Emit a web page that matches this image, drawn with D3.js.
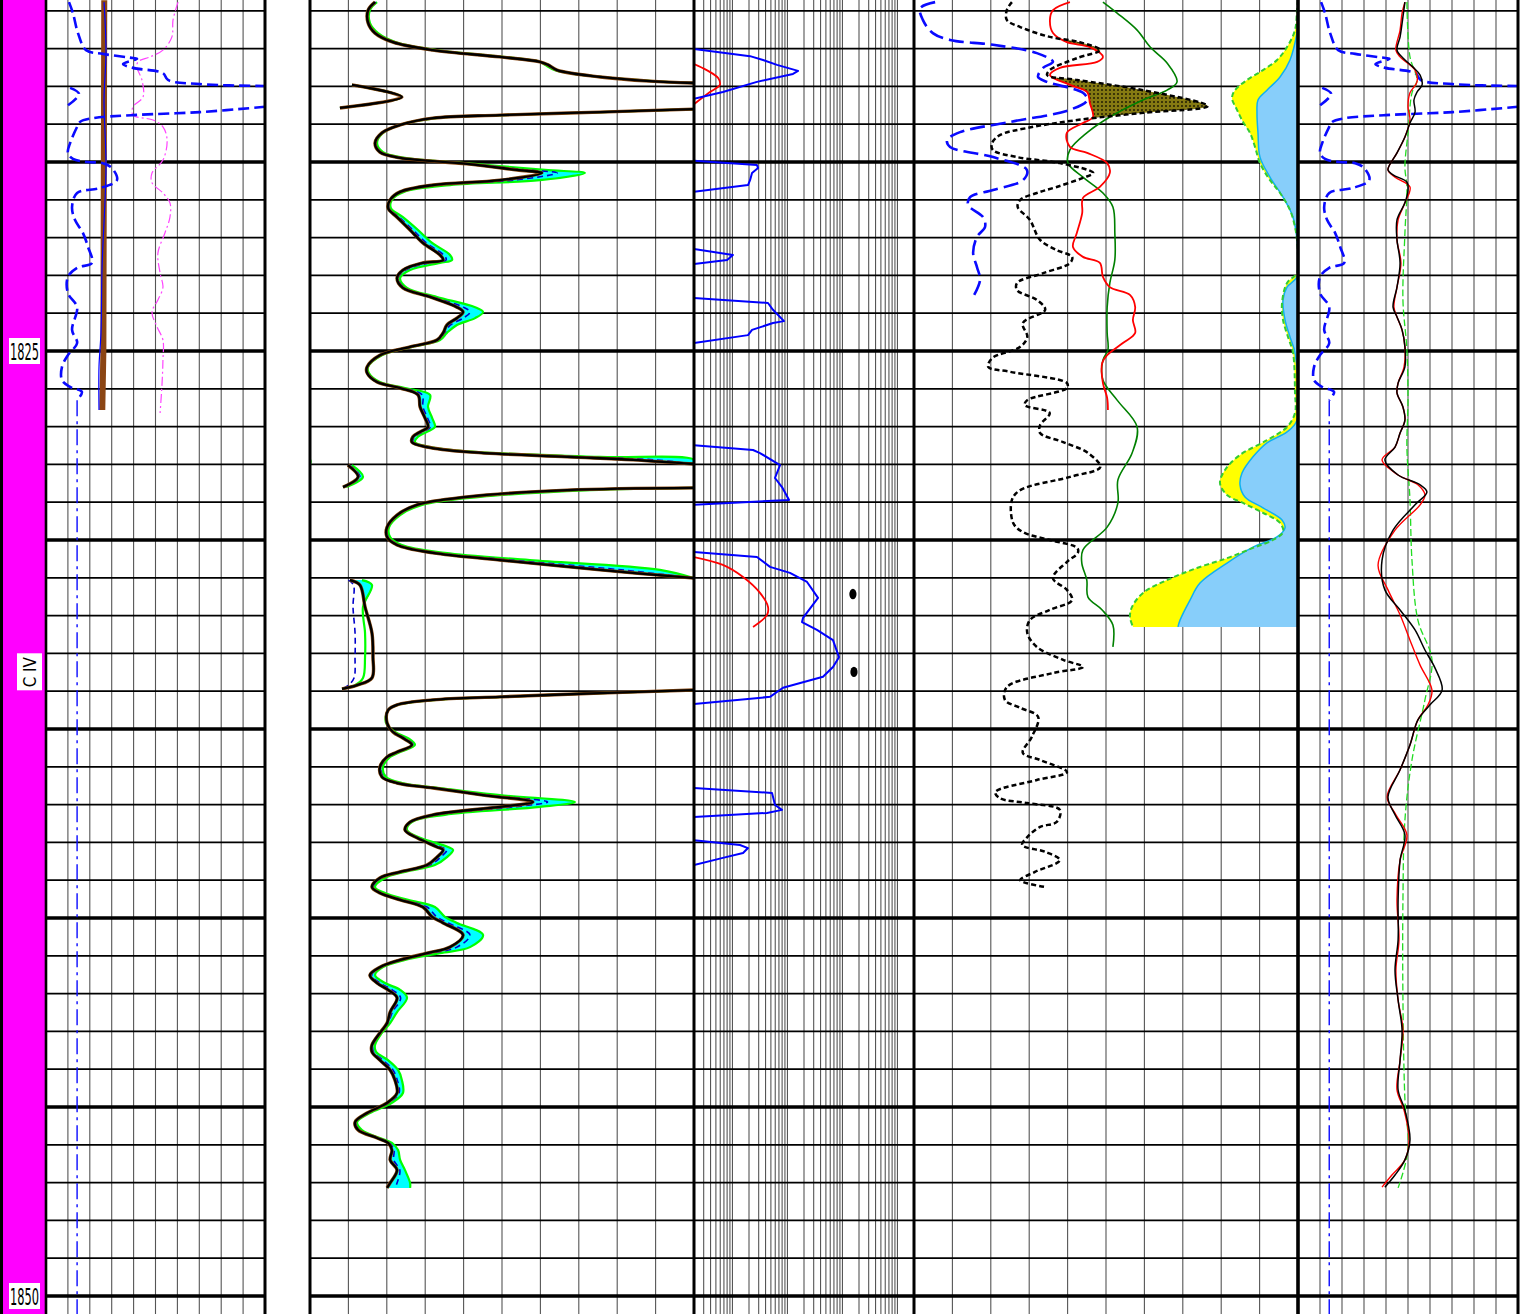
<!DOCTYPE html>
<html>
<head>
<meta charset="utf-8">
<script src="https://cdn.jsdelivr.net/npm/d3@7"></script>
<style>
  html, body { margin: 0; padding: 0; background: #fff; }
  svg { display: block; }
</style>
</head>
<body>
<svg id="chart" width="1530" height="1314"></svg>
<script>
// ---------------------------------------------------------------------------
// Log data, [depth (m), value] pairs unless noted. null pairs break a curve.
// ---------------------------------------------------------------------------

// Track 1 / Track 5: SP (0-100, wraps past the right edge)
const SP_CURVE = [
  [1815.77,10.5],[1816.06,12.3],[1816.59,14.6],[1817.04,18.3],[1817.14,26.0],[1817.25,39.7],
  [1817.27,41.6],[1817.41,35.2],[1817.51,39.7],[1817.65,53.4],[1817.83,55.7],[1817.94,70.3],
  [1817.99,100],[null,null],[1818.04,111.0],[1818.20,115.1],[1818.52,109.6],[null,null],[1818.54,100],
  [1818.68,70.3],[1818.76,39.7],[1818.84,21.5],[1818.94,15.5],[1819.07,14.2],[1819.50,11.0],
  [1819.76,10.0],[1819.92,12.3],[1820.00,18.7],[1820.03,26.0],[1820.16,30.1],[1820.48,32.4],
  [1820.69,24.7],[1820.82,14.2],[1821.19,11.9],[1821.53,13.2],[1821.88,16.9],[1822.25,19.2],
  [1822.67,21.0],[1822.80,14.2],[1823.04,10.0],[1823.47,10.0],[1823.84,14.2],[1824.44,11.9],
  [1824.79,14.2],[1825.11,10.0],[1825.42,7.3],[1825.77,7.3],[1825.95,11.0],[1826.08,16.4],
  [1826.30,14.2]
];
// SP shale baseline
const SP_BASELINE = [[1826.30,14.2],[1850.6,14.2]];

// Track 1: bit size and calipers (in)
const BIT_SIZE = [[1815.72,8.66],[1825.00,8.62],[1826.56,8.57]];
const CALIPER = [
  [1815.77,8.65],[1817.09,8.74],[1818.36,8.65],[1820.13,8.74],[1822.78,8.56],
  [1824.52,8.51],[1825.42,8.42],[1826.56,8.42]
];
const CALIPER_2 = [
  [1815.77,12.03],[1816.24,11.80],[1816.69,11.75],[1817.04,11.34],[1817.22,10.75],[1817.35,10.20],
  [1817.51,10.16],[1817.83,10.38],[1818.28,10.43],[1818.54,9.97],[1818.76,9.97],[1818.89,10.89],
  [1819.07,11.34],[1819.42,11.53],[1819.95,11.34],[1820.29,10.84],[1820.55,10.84],[1820.82,11.34],
  [1821.08,11.66],[1821.46,11.66],[1821.88,11.43],[1822.41,11.11],[1822.94,11.21],[1823.31,11.34],
  [1823.65,11.11],[1823.97,10.84],[1824.36,11.07],[1824.71,11.34],[1825.24,11.34],[1825.85,11.30],
  [1826.64,11.21]
];

// Track 2: gamma ray runs (API 0-150, wraps), shared depth samples
const GR_DEPTH = [
  1815.77,1815.98,1816.32,1816.59,1816.83,1817.04,1817.22,1817.35,1817.43,1817.57,1817.75,1817.86,1817.91,null,
  1817.96,1818.28,1818.57,null,1818.60,1818.68,1818.76,1818.84,1819.02,1819.23,1819.50,1819.74,1819.89,1820.05,
  1820.21,1820.29,1820.48,1820.61,1820.79,1821.00,1821.22,1821.46,1821.80,1822.14,1822.46,1822.59,1822.67,
  1822.86,1823.07,1823.33,1823.57,1823.84,1823.97,1824.13,1824.31,1824.52,1824.71,1824.89,1825.11,1825.42,
  1825.58,1825.82,1825.98,1826.16,1826.48,1826.77,1827.01,1827.14,1827.27,1827.41,1827.54,1827.67,1827.80,
  1827.88,1827.99,null,1828.02,1828.33,1828.60,null,1828.62,1828.68,1828.86,1829.07,1829.34,1829.66,1829.92,
  1830.13,1830.34,1830.53,1830.79,1831.01,null,1831.06,1831.19,1831.77,1832.46,1833.10,1833.65,1833.84,
  1833.94,null,1833.97,1834.05,1834.15,1834.23,1834.36,1834.50,1834.84,1835.08,1835.24,1835.42,1835.61,1835.74,
  1836.01,1836.27,1836.43,1836.56,1836.75,1836.93,1837.06,1837.27,1837.46,1837.67,1837.88,1838.12,1838.20,
  1838.39,1838.60,1838.78,1838.94,1839.18,1839.34,1839.52,1839.71,1839.97,1840.13,1840.45,1840.77,1840.93,
  1841.11,1841.30,1841.51,1841.72,1841.90,1842.11,1842.49,1842.78,1843.04,1843.36,1843.54,1843.76,1844.02,
  1844.29,1844.63,1844.89,1845.16,1845.40,1845.61,1845.82,1845.95,1846.14,1846.40,1846.67,1847.01,1847.14
];
const GR_MAIN = [
  25.4,22.7,22.7,25.4,32.4,48.0,74.2,89.8,93.0,96.5,113.3,132.8,150,null,
  166.4,185.9,161.7,null,150,113.3,74.2,48.0,35.2,28.1,25.4,27.3,35.2,61.3,
  80.9,90.6,74.2,48.0,35.2,31.3,30.5,34.0,39.1,44.1,50.8,52.0,44.1,
  36.3,34.0,36.3,46.9,57.4,59.8,57.4,53.5,52.0,49.6,39.1,27.3,22.3,
  22.3,26.2,35.2,42.2,43.0,44.9,46.1,43.0,40.2,39.8,45.7,61.3,100.4,
  126.2,150,null,164.8,168.8,162.9,null,150,100.4,61.3,41.8,34.0,30.1,30.1,
  34.0,48.0,74.2,113.3,150,null,165.6,169.5,171.5,174.2,174.6,174.2,168.4,
  162.5,null,150,113.3,74.2,48.0,34.0,30.5,30.1,32.4,36.3,39.8,34.0,30.1,
  27.3,28.1,34.0,48.0,67.6,87.1,74.2,48.0,39.1,37.1,41.8,49.6,52.0,
  49.6,45.7,35.2,27.3,24.2,27.3,35.2,44.1,47.7,52.0,59.8,54.7,45.7,
  35.2,27.3,23.4,26.2,30.5,34.0,31.3,30.1,27.3,24.2,24.2,27.3,31.3,
  33.2,34.0,30.1,22.3,17.6,18.8,26.2,30.5,32.0,31.3,34.0,31.3,30.1
];
const GR_ALT = [
  26.2,23.4,23.4,26.6,33.6,49.6,75.4,89.8,91.8,95.7,113.3,133.6,150,null,
  166.4,185.9,161.7,null,150,114.1,75.4,49.2,35.2,28.5,26.2,28.5,37.1,64.5,
  91.8,107.4,89.8,54.7,36.7,32.0,31.6,36.3,42.2,47.7,54.7,55.5,50.8,
  39.1,35.2,37.9,49.6,64.5,67.6,64.5,57.4,53.5,50.8,39.8,28.1,22.7,
  23.0,27.3,37.1,46.9,46.1,47.7,48.8,45.7,42.2,41.0,46.9,64.5,113.3,
  150,150,null,166.4,170.7,164.1,null,150,109.4,66.4,43.8,35.2,30.9,31.3,
  35.9,52.7,85.9,136.7,150,null,170.3,174.2,170.7,171.5,171.5,170.7,167.6,
  162.5,null,150,113.3,75.0,49.2,34.4,30.5,29.7,33.2,38.3,41.0,35.2,31.3,
  28.5,29.7,35.9,50.8,74.2,103.5,89.8,52.7,39.8,37.9,43.0,53.9,55.9,
  53.5,48.8,37.1,29.3,25.4,29.3,38.3,48.8,52.7,57.4,67.6,62.5,50.8,
  37.1,28.5,25.4,29.3,35.2,37.9,34.0,31.3,28.1,25.4,25.8,30.5,34.4,
  35.9,36.3,32.0,23.4,18.4,20.3,27.3,32.0,34.4,35.2,37.1,39.1,39.1
];
const GR_RUN3 = [
  25.7,22.9,22.9,25.8,32.8,48.6,74.6,89.8,92.6,96.2,113.3,133.1,150,null,
  166.4,185.9,161.7,null,150,113.6,74.6,48.4,35.2,28.2,25.7,27.7,35.9,62.4,
  84.7,96.5,79.7,50.3,35.7,31.5,30.9,34.8,40.2,45.4,52.2,53.2,46.4,
  37.3,34.4,36.9,47.8,59.9,62.5,59.9,54.9,52.5,50.0,39.3,27.6,22.4,
  22.5,26.6,35.9,43.8,44.1,45.9,47.0,43.9,40.9,40.2,46.1,62.4,104.9,
  134.5,150,null,165.4,169.5,163.3,null,150,103.6,63.1,42.5,34.4,30.4,30.5,
  34.7,49.6,78.3,121.5,150,null,165.0,167.0,166.8,167.6,167.6,167.2,165.0,
  162.5,null,150,113.3,74.5,48.4,34.1,30.5,29.9,32.7,37.0,40.2,34.4,30.5,
  27.7,28.7,34.7,49.0,69.9,92.8,79.7,49.6,39.3,37.4,42.2,51.1,53.4,
  51.0,46.8,35.9,28.0,24.6,28.0,36.3,45.7,49.5,53.9,62.5,57.4,47.5,
  35.9,27.7,24.1,27.3,32.1,35.4,32.2,30.5,27.6,24.6,24.8,28.4,32.4,
  34.1,34.8,30.8,22.7,17.9,19.3,26.6,31.0,32.8,32.7,35.1,34.0,33.2
];

// Track 3: resistivity (ohm.m, log 0.2-2000)
const RES_DEEP = [
  [1817.01,0.2],[1817.20,2.09],[1817.30,3.6],[1817.43,6.46],[1817.59,15.6],[1817.67,12.6],[1817.88,2.79],
  [1818.15,0.67],[1818.33,0.2],[null,null],
  [1819.97,0.2],[1820.08,2.79],[1820.16,2.92],[1820.29,2.27],[1820.48,2.09],[1820.61,1.92],[1820.79,0.2],[null,null],
  [1822.30,0.2],[1822.46,1.02],[1822.59,0.80],[1822.70,0.2],[null,null],
  [1823.60,0.2],[1823.73,4.43],[1823.91,5.46],[1824.21,8.65],[1824.26,5.46],[1824.44,2.27],[1824.58,1.92],
  [1824.79,0.2],[null,null],
  [1827.49,0.2],[1827.62,2.37],[1827.70,3.17],[1828.02,7.33],[1828.36,5.94],[1828.60,7.96],[1828.94,10.7],
  [1829.07,0.2],[null,null],
  [1830.32,0.2],[1830.45,2.79],[1830.71,4.82],[1830.87,11.1],[1831.11,22.7],[1831.53,36.0],[1832.06,19.2],
  [1832.17,18.4],[1832.38,34.4],[1832.65,67.3],[1833.10,86.5],[1833.36,67.3],[1833.62,44.3],[1833.91,8.30],
  [1834.15,4.82],[1834.34,0.2],[null,null],
  [1836.56,0.2],[1836.69,5.24],[1837.01,5.94],[1837.14,7.96],[1837.22,4.25],[1837.33,0.2],[null,null],
  [1837.94,0.2],[1838.07,1.37],[1838.15,1.92],[1838.28,1.56],[1838.41,0.67],[1838.60,0.2]
];
const RES_SHALLOW = [
  [1817.41,0.2],[1817.57,0.34],[1817.78,0.55],[1817.96,0.59],[1818.15,0.39],[1818.47,0.2],[null,null],
  [1830.45,0.2],[1830.66,0.67],[1830.98,1.56],[1831.40,3.17],[1831.77,4.43],[1831.98,4.25],[1832.30,2.37]
];
const RES_SAMPLES = [[1831.43,155],[1833.49,162]];

// Track 4: porosity / density / sonic / PEF
const NPHI = [
  [1815.77,0.297],[1815.98,0.305],[1816.24,0.305],[1816.43,0.284],[1816.69,0.238],[1816.83,0.191],
  [1817.04,0.159],[1817.25,0.195],[1817.57,0.238],[1817.70,0.242],[1817.83,0.195],[1818.10,0.092],
  [1818.52,-0.009],[1818.70,0.092],[1818.89,0.195],[1819.10,0.273],[1819.29,0.316],[1819.50,0.328],
  [1819.68,0.327],[1819.87,0.289],[1820.03,0.222],[1820.29,0.170],[1820.42,0.186],[1820.66,0.227],
  [1820.82,0.258],[1821.00,0.284],[1821.19,0.288],[1821.53,0.269],[1822.06,0.253],[1822.33,0.227],
  [1822.51,0.203],[1822.67,0.206],[1822.94,0.248],[1823.20,0.289],[1823.39,0.289],[1823.65,0.258],
  [1823.91,0.245],[1824.26,0.280],[1824.63,0.273],[1824.89,0.284],[1825.19,0.328],[1825.42,0.334],
  [1825.55,0.300],[1825.85,0.211],[1825.98,0.211],[1826.30,0.273],[1826.43,0.277],[1826.64,0.238],
  [1826.96,0.253],[1827.17,0.253],[1827.41,0.217],[1827.70,0.178],[1828.07,0.159],[1828.33,0.206],
  [1828.68,0.284],[1828.94,0.297],[1829.55,0.295],[1829.79,0.280],[1830.00,0.238],[1830.21,0.195],
  [1830.34,0.194],[1830.58,0.211],[1831.01,0.233],[1831.32,0.211],[1831.59,0.203],[1831.85,0.238],
  [1832.12,0.269],[1832.46,0.273],[1832.83,0.258],[1833.17,0.217],[1833.36,0.186],[1833.52,0.233],
  [1833.89,0.305],[1834.23,0.308],[1834.44,0.284],[1834.68,0.256],[1835.21,0.266],[1835.63,0.280],
  [1835.82,0.253],[1836.14,0.211],[1836.35,0.258],[1836.67,0.323],[1836.83,0.316],[1836.96,0.273],
  [1837.14,0.222],[1837.46,0.227],[1837.59,0.253],[1837.86,0.273],[1838.07,0.281],[1838.25,0.245],
  [1838.47,0.222],[1838.78,0.261],[1839.00,0.284],[1839.18,0.245]
];
const RHOB = [
  [1815.77,2.356],[1815.98,2.312],[1816.24,2.304],[1816.59,2.312],[1816.83,2.348],[1816.96,2.408],
  [1817.22,2.442],[1817.35,2.427],[1817.51,2.330],[1817.70,2.304],[1817.96,2.356],[1818.15,2.401],
  [1818.44,2.408],[1818.81,2.416],[1818.97,2.390],[1819.23,2.348],[1819.60,2.356],[1819.76,2.401],
  [1820.03,2.453],[1820.29,2.460],[1820.66,2.434],[1820.95,2.390],[1821.35,2.388],[1821.88,2.374],
  [1822.25,2.364],[1822.51,2.390],[1822.67,2.434],[1823.04,2.442],[1823.31,2.460],[1823.52,2.513],
  [1823.84,2.526],[1824.18,2.520],[1824.52,2.526],[1824.79,2.494],[1825.11,2.453],[1825.32,2.440],
  [1825.85,2.442],[1826.24,2.453],[1826.56,2.455]
];
const DT = [
  [1815.77,90.8],[1816.06,87.1],[1816.51,81.9],[1816.96,78.5],[1817.38,74.1],[1817.88,71.5],
  [1818.10,74.1],[1818.36,80.4],[1818.81,89.0],[1819.23,95.0],[1819.68,99.4],[1820.03,99.9],
  [1820.40,96.0],[1820.82,90.8],[1821.19,88.2],[1821.88,87.7],[1822.59,87.7],[1823.20,89.0],
  [1823.84,89.7],[1824.52,89.7],[1824.97,89.5],[1825.24,90.8],[1825.77,90.8],[1826.30,87.1],
  [1827.01,81.9],[1827.70,83.2],[1828.41,86.9],[1829.02,86.9],[1829.66,89.7],[1830.26,96.0],
  [1830.61,96.3],[1831.06,95.0],[1831.51,94.7],[1831.85,91.0],[1832.25,88.2],[1832.83,88.2]
];
const PEF = [
  [1815.77,0.55],[1815.93,0.16],[1816.24,0.23],[1816.59,0.49],[1816.77,0.94],[1816.90,2.06],
  [1817.12,3.20],[1817.35,3.62],[1817.51,3.36],[1817.75,3.23],[1817.88,3.46],[1818.17,4.40],
  [1818.36,4.51],[1818.62,4.06],[1818.94,2.50],[1819.21,1.20],[1819.42,0.86],[1819.60,0.94],
  [1819.87,2.06],[1820.21,2.94],[1820.48,2.84],[1820.74,2.06],[1820.93,1.46],[1821.14,1.41],
  [1821.46,1.80],[1821.72,1.85],[1821.98,1.64],[1822.41,1.54],[1822.78,1.64],[1823.12,1.72],
  [1823.57,1.54]
];
// Effective porosity and bulk volume water (v/v, 0.5-0, from the right edge)
const PHIE = [
  [1815.71,0],[1815.98,0.0013],[1816.51,0.0039],[1816.96,0.0143],[1817.30,0.0273],[1817.57,0.0456],
  [1817.83,0.0664],[1818.10,0.0820],[1818.31,0.0859],[1818.62,0.0794],[1818.94,0.0716],[1819.23,0.0625],
  [1819.60,0.0560],[1820.03,0.0495],[1820.48,0.0365],[1820.82,0.0234],[1821.27,0.0104],[1821.72,0.0039],
  [1822.06,0.0013],[1822.54,0],[1822.94,0.0013],[1823.20,0.0143],[1823.73,0.0208],[1824.18,0.0195],
  [1824.63,0.0130],[1825.05,0.0065],[1826.11,0.0039],[1826.64,0.0039],[1827.01,0.0143],[1827.36,0.0404],
  [1827.75,0.0755],[1828.15,0.0951],[1828.49,0.1016],[1828.81,0.0924],[1829.02,0.0716],[1829.28,0.0456],
  [1829.55,0.0234],[1829.79,0.0195],[1830.00,0.0326],[1830.21,0.0586],[1830.48,0.0924],[1830.74,0.1315],
  [1831.06,0.1706],[1831.40,0.2018],[1831.77,0.2161],[1832.04,0.2188],[1832.30,0.2148]
];
const BVW = [
  [1815.71,0],[1816.38,0],[1816.59,0.0013],[1817.30,0.0104],[1817.75,0.0234],[1818.10,0.0404],
  [1818.36,0.0521],[1818.70,0.0534],[1819.23,0.0521],[1819.87,0.0495],[1820.40,0.0365],[1820.93,0.0195],
  [1821.46,0.0065],[1822.06,0.0013],[1822.54,0],[1823.04,0.0013],[1823.31,0.0143],[1823.65,0.0195],
  [1824.18,0.0169],[1824.63,0.0104],[1825.05,0.0039],[1826.83,0.0013],[1827.14,0.0143],[1827.43,0.0404],
  [1827.80,0.0586],[1828.23,0.0729],[1828.54,0.0755],[1828.86,0.0690],[1829.15,0.0456],[1829.47,0.0208],
  [1829.68,0.0169],[1829.92,0.0273],[1830.19,0.0586],[1830.61,0.0924],[1831.14,0.1276],[1831.59,0.1406],
  [1832.12,0.1536],[1832.30,0.1563]
];

// Track 5: three micro-curves (0-100)
const T5_BLACK = [
  [1815.77,48.6],[1816.16,47.7],[1816.69,46.4],[1817.04,45.0],[1817.25,47.7],[1817.49,52.3],[1817.70,55.5],
  [1817.96,56.4],[1818.15,54.1],[1818.36,52.7],[1818.68,53.2],[1818.97,50.9],[1819.34,48.6],[1819.76,45.0],
  [1820.21,40.9],[1820.34,43.2],[1820.53,49.5],[1820.74,50.0],[1821.08,48.6],[1821.53,45.0],[1822.06,45.0],
  [1822.67,46.4],[1823.31,45.0],[1823.84,43.2],[1824.10,45.0],[1824.44,47.3],[1824.89,48.6],[1825.42,48.6],
  [1825.85,45.5],[1826.11,45.0],[1826.48,47.7],[1826.83,48.6],[1827.17,46.4],[1827.54,44.1],[1827.88,39.5],
  [1828.28,45.5],[1828.54,55.5],[1828.73,58.6],[1829.07,53.2],[1829.74,43.2],[1830.53,38.2],[1831.32,39.5],
  [1831.85,46.4],[1832.38,53.2],[1832.91,57.7],[1833.39,62.3],[1833.97,65.5],[1834.36,60.0],[1834.76,54.5],
  [1835.42,50.9],[1836.08,46.4],[1836.80,40.9],[1837.27,44.1],[1837.80,48.6],[1838.47,46.4],[1839.52,45.5],
  [1840.58,45.5],[1841.38,44.1],[1842.17,45.5],[1842.96,47.3],[1843.76,46.4],[1844.55,45.5],[1845.08,48.6],
  [1845.87,50.9],[1846.40,48.6],[1846.80,44.1],[1847.12,39.5]
];
const T5_RED = [
  [1815.77,48.6],[1816.06,47.3],[1816.51,46.4],[1817.04,44.5],[1817.22,46.4],[1817.57,53.2],[1817.88,54.1],
  [1818.17,50.9],[1818.54,50.0],[1818.89,50.9],[1819.34,48.6],[1819.76,45.0],[1820.21,40.9],[1820.40,44.1],
  [1820.66,50.9],[1821.08,48.6],[1821.53,45.5],[1822.06,45.0],[1822.67,46.8],[1823.31,45.0],[1823.84,43.6],
  [1824.10,45.0],[1824.44,47.3],[1824.89,48.6],[1825.42,48.2],[1825.85,45.5],[1826.11,45.0],[1826.48,47.7],
  [1826.83,48.6],[1827.17,46.4],[1827.54,44.1],[1827.88,38.2],[1828.28,45.5],[1828.54,54.5],[1828.81,57.7],
  [1829.07,55.5],[1829.74,44.1],[1830.66,36.4],[1831.32,40.9],[1831.98,46.4],[1832.65,50.9],[1833.31,55.5],
  [1833.97,60.9],[1834.36,59.1],[1834.76,54.5],[1835.42,50.9],[1836.08,46.4],[1836.80,40.5],[1837.27,44.5],
  [1837.80,49.5],[1838.47,46.4],[1839.52,45.0],[1840.58,45.9],[1841.38,44.5],[1842.17,45.5],[1842.96,47.7],
  [1843.76,46.4],[1844.55,45.0],[1845.08,48.2],[1845.87,50.5],[1846.40,48.6],[1846.80,42.7],[1847.12,38.2]
];
const T5_GREEN = [
  [1815.77,49.5],[1817.22,50.9],[1817.83,54.1],[1818.17,51.8],[1819.23,50.0],[1820.13,48.6],[1820.66,49.5],
  [1821.88,48.6],[1823.65,47.7],[1824.97,49.5],[1826.30,50.0],[1827.54,49.5],[1828.94,50.9],[1830.53,51.8],
  [1832.12,54.5],[1833.17,60.9],[1834.23,57.7],[1835.82,51.8],[1837.41,48.6],[1839.52,47.7],[1842.17,47.7],
  [1844.81,48.6],[1846.14,50.0],[1847.14,45.5]
];

// Depth annotations
const DEPTH_LABELS = [1825, 1850];
const ZONE_LABEL = { text: "C IV", depth: 1833.5 };

// ---------------------------------------------------------------------------
// Layout and scales
// ---------------------------------------------------------------------------
const W = 1530, H = 1314;
const svg = d3.select("#chart");
const defs = svg.append("defs");

const y = d3.scaleLinear().domain([1825, 1850]).range([351, 1296]);

const TRACKS = {
  t1: [46, 265], t2: [310, 694], t3: [694, 914], t4: [914, 1298], t5: [1298, 1518]
};

const xSP1  = d3.scaleLinear().domain([0, 100]).range(TRACKS.t1);
const xCal  = d3.scaleLinear().domain([6, 16]).range(TRACKS.t1);
const xGR   = d3.scaleLinear().domain([0, 150]).range(TRACKS.t2);
const xRes  = d3.scaleLog().domain([0.2, 2000]).range(TRACKS.t3);
const xNphi = d3.scaleLinear().domain([0.45, -0.15]).range(TRACKS.t4);
const xRhob = d3.scaleLinear().domain([1.95, 2.95]).range(TRACKS.t4);
const xDt   = d3.scaleLinear().domain([140, 40]).range(TRACKS.t4);
const xPef  = d3.scaleLinear().domain([0, 10]).range(TRACKS.t4);
const xPor  = d3.scaleLinear().domain([0.5, 0]).range(TRACKS.t4);
const xSP5  = d3.scaleLinear().domain([0, 100]).range(TRACKS.t5);
const xT5   = d3.scaleLinear().domain([0, 100]).range(TRACKS.t5);

Object.entries(TRACKS).forEach(([id, [a, b]]) => {
  defs.append("clipPath").attr("id", "clip-" + id)
    .append("rect").attr("x", a).attr("y", 0).attr("width", b - a).attr("height", H);
});

// dotted olive pattern for the density/neutron crossover
const pat = defs.append("pattern").attr("id", "oliveDots")
  .attr("width", 4).attr("height", 4).attr("patternUnits", "userSpaceOnUse");
pat.append("rect").attr("width", 4).attr("height", 4).attr("fill", "#857a12");
pat.append("circle").attr("cx", 2).attr("cy", 2).attr("r", 0.95).attr("fill", "#1c1800");

svg.append("rect").attr("width", W).attr("height", H).attr("fill", "#fff");

// ---------------------------------------------------------------------------
// Depth column
// ---------------------------------------------------------------------------
svg.append("rect").attr("x", 2).attr("y", 0).attr("width", 44).attr("height", H).attr("fill", "#ff00ff");
svg.append("line").attr("x1", 1.5).attr("x2", 1.5).attr("y1", 0).attr("y2", H)
  .attr("stroke", "#000").attr("stroke-width", 3);

const labelFont = "'Liberation Sans Narrow', 'DejaVu Sans Condensed', 'Liberation Sans', sans-serif";
DEPTH_LABELS.forEach(d => {
  const cy = y(d);
  svg.append("rect").attr("x", 9).attr("y", cy - 13).attr("width", 31).attr("height", 26).attr("fill", "#fff");
  svg.append("text").attr("x", 24.5).attr("y", cy + 8.5)
    .attr("text-anchor", "middle").attr("font-family", labelFont).attr("font-size", 23)
    .attr("textLength", 29).attr("lengthAdjust", "spacingAndGlyphs")
    .attr("fill", "#000").text(d);
});
{
  const cy = y(ZONE_LABEL.depth);
  svg.append("rect").attr("x", 17).attr("y", cy - 19).attr("width", 25).attr("height", 37).attr("fill", "#fff");
  svg.append("text").attr("transform", `translate(36,${cy}) rotate(-90)`)
    .attr("text-anchor", "middle").attr("font-family", labelFont).attr("font-size", 18)
    .attr("textLength", 30).attr("lengthAdjust", "spacingAndGlyphs")
    .attr("fill", "#000").text(ZONE_LABEL.text);
}

// ---------------------------------------------------------------------------
// Grid
// ---------------------------------------------------------------------------
const grid = svg.append("g");
const metreLines = d3.range(Math.ceil(y.invert(0)), Math.floor(y.invert(H)) + 1);
Object.entries(TRACKS).forEach(([id, [a, b]]) => {
  const verticals = id === "t3"
    ? xRes.ticks().filter(v => v > 0.2 && v < 2000).map(v => xRes(v))
    : d3.range(1, 10).map(i => a + (b - a) * i / 10);
  verticals.forEach(x => grid.append("line")
    .attr("x1", x).attr("x2", x).attr("y1", 0).attr("y2", H)
    .attr("stroke", "#555").attr("stroke-width", 1.1));
  metreLines.forEach(d => grid.append("line")
    .attr("x1", a).attr("x2", b).attr("y1", y(d)).attr("y2", y(d))
    .attr("stroke", "#000").attr("stroke-width", d % 5 === 0 ? 3.4 : 1.8));
});

// ---------------------------------------------------------------------------
// Curve helpers
// ---------------------------------------------------------------------------
const smooth = d3.curveCatmullRom.alpha(0.5);
const ok = p => p[0] != null && p[1] != null;

function layer(track) {
  return svg.append("g").attr("clip-path", `url(#clip-${track})`);
}
function plot(track, data, xs, style, opt = {}) {
  const g = layer(track);
  const gen = d3.line().defined(ok).x(p => xs(p[1])).y(p => y(p[0])).curve(opt.curve || smooth);
  const r = xs.range(), w = Math.abs(r[1] - r[0]);
  (opt.wrap ? [0, -w] : [0]).forEach(dx => {
    const path = g.append("path").attr("d", gen(data)).attr("fill", "none")
      .attr("stroke-linejoin", "round").attr("transform", `translate(${dx},0)`);
    Object.entries(style).forEach(([k, v]) => path.attr(k, v));
  });
}

// ---------------------------------------------------------------------------
// Track 1
// ---------------------------------------------------------------------------
plot("t1", BIT_SIZE, xCal, { stroke: "#8b4513", "stroke-width": 6 }, { curve: d3.curveLinear });
plot("t1", CALIPER, xCal, { stroke: "#0000ff", "stroke-width": 1.2 });
plot("t1", CALIPER_2, xCal, { stroke: "#ff44ff", "stroke-width": 1.2, "stroke-dasharray": "9,3,2,3" });
plot("t1", SP_CURVE, xSP1, { stroke: "#0a0aff", "stroke-width": 2.6, "stroke-dasharray": "11,5" }, { wrap: true });
plot("t1", SP_BASELINE, xSP1, { stroke: "#0a0aff", "stroke-width": 1.4, "stroke-dasharray": "16,5,3,5" }, { curve: d3.curveLinear });

// ---------------------------------------------------------------------------
// Track 2
// ---------------------------------------------------------------------------
const grRows = GR_DEPTH.map((d, i) => [d, GR_MAIN[i], GR_ALT[i], GR_RUN3[i]]);
{
  const g = layer("t2");
  const area = d3.area().defined(ok).y(p => y(p[0]))
    .x0(p => xGR(p[1])).x1(p => xGR(Math.max(p[1], p[2]))).curve(smooth);
  const w = TRACKS.t2[1] - TRACKS.t2[0];
  [0, -w].forEach(dx => g.append("path").attr("d", area(grRows))
    .attr("fill", "#00ffff").attr("transform", `translate(${dx},0)`));
}
plot("t2", grRows.map(r => [r[0], r[2]]), xGR, { stroke: "#00ff00", "stroke-width": 2.2 }, { wrap: true });
plot("t2", grRows.map(r => [r[0], r[3]]), xGR, { stroke: "#0000cc", "stroke-width": 1.6, "stroke-dasharray": "6,4" }, { wrap: true });
plot("t2", grRows.map(r => [r[0], r[1]]), xGR, { stroke: "#8b4a12", "stroke-width": 3.4 }, { wrap: true });
plot("t2", grRows.map(r => [r[0], r[1]]), xGR, { stroke: "#000", "stroke-width": 2.3 }, { wrap: true });

// ---------------------------------------------------------------------------
// Track 3
// ---------------------------------------------------------------------------
plot("t3", RES_SHALLOW, xRes, { stroke: "#ff0000", "stroke-width": 1.8 });
plot("t3", RES_DEEP, xRes, { stroke: "#0000ff", "stroke-width": 2 }, { curve: d3.curveLinear });
layer("t3").selectAll("ellipse").data(RES_SAMPLES).join("ellipse")
  .attr("cx", p => xRes(p[1])).attr("cy", p => y(p[0]))
  .attr("rx", 3.6).attr("ry", 5.2).attr("fill", "#000");

// ---------------------------------------------------------------------------
// Track 4
// ---------------------------------------------------------------------------
{
  const g = layer("t4");
  // porosity / bound water from the right edge
  const fromRight = d3.area().defined(ok).y(p => y(p[0])).x0(p => xPor(p[1])).x1(xPor(0)).curve(smooth);
  g.append("path").attr("d", fromRight(PHIE)).attr("fill", "#ffff00");
  g.append("path").attr("d", fromRight(BVW)).attr("fill", "#87cefa");

  // crossover: neutron right of density
  defs.append("clipPath").attr("id", "rhobRight").append("path")
    .attr("d", d3.area().y(p => y(p[0])).x0(p => xRhob(p[1])).x1(TRACKS.t4[1]).curve(smooth)(RHOB));
  const nphiTop = NPHI.filter(p => p[0] >= 1816.4 && p[0] <= 1819.2);
  g.append("path")
    .attr("d", d3.area().y(p => y(p[0])).x0(TRACKS.t4[0]).x1(p => xNphi(p[1])).curve(smooth)(nphiTop))
    .attr("fill", "url(#oliveDots)").attr("clip-path", "url(#rhobRight)");
}
plot("t4", BVW, xPor, { stroke: "#10b0f0", "stroke-width": 1.5 });
plot("t4", PHIE, xPor, { stroke: "#33cc33", "stroke-width": 2, "stroke-dasharray": "5,3" });
plot("t4", PEF, xPef, { stroke: "#0a0aff", "stroke-width": 2.6, "stroke-dasharray": "15,6" });
plot("t4", DT, xDt, { stroke: "#008000", "stroke-width": 1.6 });
plot("t4", RHOB, xRhob, { stroke: "#ff0000", "stroke-width": 1.8 });
plot("t4", NPHI, xNphi, { stroke: "#000", "stroke-width": 2.5, "stroke-dasharray": "5,3" });

// ---------------------------------------------------------------------------
// Track 5
// ---------------------------------------------------------------------------
plot("t5", SP_CURVE, xSP5, { stroke: "#0a0aff", "stroke-width": 2.6, "stroke-dasharray": "11,5" }, { wrap: true });
plot("t5", SP_BASELINE, xSP5, { stroke: "#0a0aff", "stroke-width": 1.4, "stroke-dasharray": "16,5,3,5" }, { curve: d3.curveLinear });
plot("t5", T5_GREEN, xT5, { stroke: "#22dd22", "stroke-width": 1.3, "stroke-dasharray": "7,3" });
plot("t5", T5_RED, xT5, { stroke: "#ff0000", "stroke-width": 1.4 });
plot("t5", T5_BLACK, xT5, { stroke: "#000", "stroke-width": 1.5 });

// ---------------------------------------------------------------------------
// Track borders
// ---------------------------------------------------------------------------
[[46, 2.6], [265, 3], [310, 3], [694, 3], [914, 3], [1298, 3.6], [1518, 3]].forEach(([x, sw]) =>
  svg.append("line").attr("x1", x).attr("x2", x).attr("y1", 0).attr("y2", H)
    .attr("stroke", "#000").attr("stroke-width", sw));
</script>
</body>
</html>
